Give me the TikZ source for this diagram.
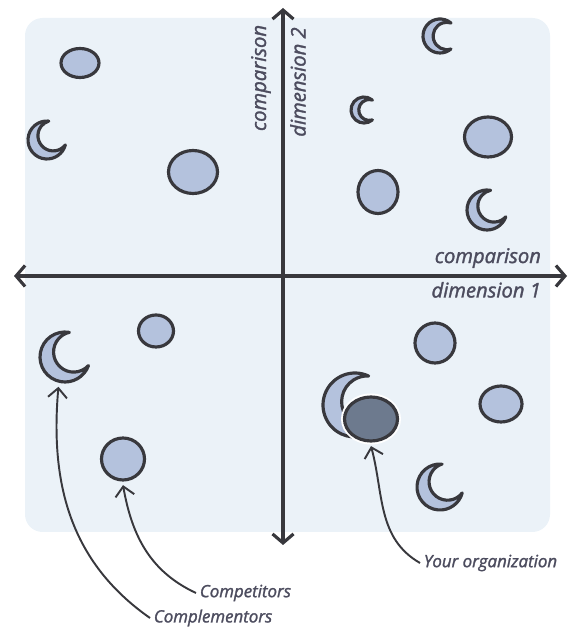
\documentclass[tikz,border=0pt]{standalone}
\usepackage{fontspec}
\setmainfont{Open Sans}
\newfontfamily\tagfont{Open Sans}[ItalicFeatures={FakeBold=1.6}]
\usetikzlibrary{arrows.meta,shapes.geometric}

\definecolor{paper}{HTML}{EBF2F8}
\definecolor{ink}{HTML}{38383D}
\definecolor{blobfill}{HTML}{B4C2DD}
\definecolor{usfill}{HTML}{6D7A8E}
\definecolor{labelink}{HTML}{4C4C5E}

\tikzset{
  dims/.style 2 args={minimum width=#1*0.2mm, minimum height=#2*0.2mm},
  blob/.style={ellipse, draw=ink, line width=1.8pt, fill=blobfill, inner sep=0pt},
  axislabel/.style={font=\tagfont\itshape\fontsize{11.5}{13}\selectfont, text=labelink, inner sep=1pt},
  tag/.style={font=\tagfont\itshape\fontsize{9.6}{12}\selectfont, text=labelink, inner sep=2pt},
  axis/.style={line width=1.8pt, draw=ink, line cap=round,
    {Straight Barb[length=1.8mm,width=4.2mm]}-{Straight Barb[length=1.8mm,width=4.2mm]}},
  pointer/.style={line width=1.1pt, draw=ink, -{Straight Barb[length=1.9mm,width=3.8mm]}},
  % crescent: radius/tilt, opening towards the tilt angle
  pics/moon/.style args={#1/#2}{
    code={
      \draw[draw=ink, line width=1.8pt, fill=blobfill, line join=round, rotate=#2, scale=#1]
        (50:1) arc[start angle=50, end angle=310, radius=1]
        arc[start angle=-72.4, end angle=-287.6, radius=0.804] -- cycle;
      \node[circle, inner sep=0pt, minimum size=#1*0.4mm] (-c) {};
    }
  }
}

\begin{document}
\begin{tikzpicture}[x=0.2mm, y=0.2mm]
  \useasboundingbox (0,0) rectangle (569,633);
  \fill[paper, rounded corners=10pt] (25,101) rectangle (550,615);

  % axes
  \coordinate (W) at (14,357);
  \coordinate (E) at (567,357);
  \coordinate (S) at (283,88);
  \coordinate (N) at (283,625);
  \draw[axis] (W) -- (E);
  \draw[axis] (S) -- (N);
  \node[axislabel, anchor=south east] (dimA) at (543,363) {comparison};
  \node[axislabel, anchor=north east] (dimB) at (543,353) {dimension 1};
  \node[axislabel, rotate=90] (dimC) at (261,555) {comparison};
  \node[axislabel, rotate=90] (dimD) at (298,551) {dimension 2};

  % competitors
  \node[blob, dims={38}{29}] (b1) at (80,570) {};
  \node[blob, dims={49}{43}] (b2) at (193,461) {};
  \node[blob, dims={47}{40}] (b3) at (488,496) {};
  \node[blob, dims={40}{43}] (b4) at (378,441) {};
  \node[blob, dims={35}{32}] (b5) at (156,302) {};
  \node[blob, dims={43}{42}] (b6) at (123,174) {};
  \node[blob, dims={40}{40}] (b7) at (435,290) {};
  \node[blob, dims={42}{36}] (b8) at (501,229) {};

  % complementors
  \pic (m1) at (47,493) {moon=19/35};
  \pic (m2) at (440,597) {moon=17/0};
  \pic (m3) at (364,523) {moon=13/0};
  \pic (m4) at (487,423) {moon=20/30};
  \pic (m5) at (65,276) {moon=25/30};
  \pic (m6) at (440,146) {moon=23/35};
  \pic (m7) at (355,228) {moon=32/15};

  % our own position
  \node[ellipse, fill=white, dims={60}{51}] (gap) at (371,214) {};
  \node[blob, fill=usfill, dims={53}{44}] (you) at (371,214) {};

  % callouts
  \node[tag, anchor=west] (lyou) at (420,70) {Your organization};
  \node[tag, anchor=west] (lcomp) at (196,40) {Competitors};
  \node[tag, anchor=west] (lcompl) at (150,15) {Complementors};
  \draw[pointer] (lyou.west) to[out=150, in=-75] ([yshift=-2pt]you.south);
  \draw[pointer] (lcomp.west) to[out=155, in=-80] ([yshift=-2pt]b6.south);
  \draw[pointer] (lcompl.west) to[out=145, in=-95] ([yshift=-3pt]m5-c.-105);
\end{tikzpicture}
\end{document}
